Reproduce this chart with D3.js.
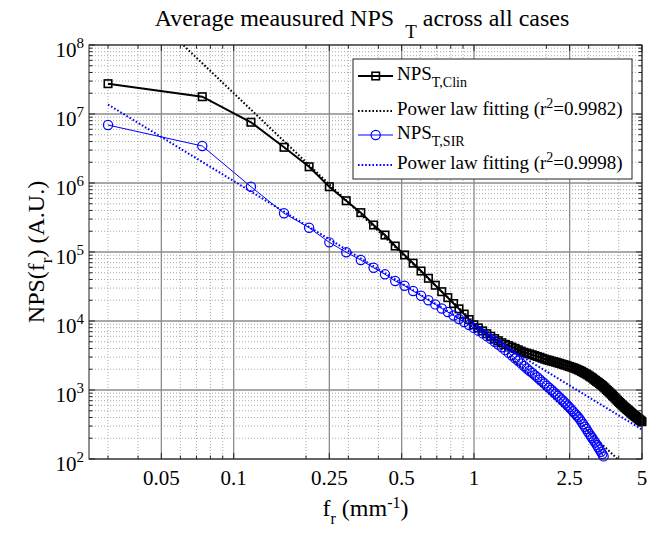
<!DOCTYPE html>
<html>
<head>
<meta charset="utf-8">
<script src="https://cdn.jsdelivr.net/npm/d3@7"></script>
<style>
  body { margin: 0; background: #fff; }
  svg text { font-family: "Liberation Serif", "Times New Roman", serif; fill: #000; }
</style>
</head>
<body>
<svg id="chart" width="647" height="538"></svg>
<script>
// spatial frequency (mm^-1) of each radial bin
const freq = [
  0.030, 0.074, 0.118, 0.162, 0.206, 0.250, 0.294, 0.338, 0.382, 0.426,
  0.470, 0.514, 0.558, 0.602, 0.646, 0.690, 0.734, 0.778, 0.822, 0.866,
  0.910, 0.954, 0.998, 1.042, 1.086, 1.130, 1.174, 1.218, 1.262, 1.306,
  1.350, 1.394, 1.438, 1.482, 1.526, 1.570, 1.614, 1.658, 1.702, 1.746,
  1.790, 1.834, 1.878, 1.922, 1.966, 2.010, 2.054, 2.098, 2.142, 2.186,
  2.230, 2.274, 2.318, 2.362, 2.406, 2.450, 2.494, 2.538, 2.582, 2.626,
  2.670, 2.714, 2.758, 2.802, 2.846, 2.890, 2.934, 2.978, 3.022, 3.066,
  3.110, 3.154, 3.198, 3.242, 3.286, 3.330, 3.374, 3.418, 3.462, 3.506,
  3.550, 3.594, 3.638, 3.682, 3.726, 3.770, 3.814, 3.858, 3.902, 3.946,
  3.990, 4.034, 4.078, 4.122, 4.166, 4.210, 4.254, 4.298, 4.342, 4.386,
  4.430, 4.474, 4.518, 4.562, 4.606, 4.650, 4.694, 4.738, 4.782, 4.826,
  4.870, 4.914, 4.958, 5.000
];

// NPS_T,Clin
const npsClin = [
  2.75e7, 1.78e7, 7.59e6, 3.29e6, 1.72e6, 8.83e5, 5.53e5, 3.72e5, 2.46e5, 1.76e5,
  1.22e5, 9.06e4, 6.89e4, 5.30e4, 4.16e4, 3.30e4, 2.66e4, 2.18e4, 1.79e4, 1.50e4,
  1.26e4, 1.05e4, 8.81e3, 7.94e3, 7.19e3, 6.55e3, 6.01e3, 5.56e3, 5.18e3, 4.85e3,
  4.58e3, 4.39e3, 4.19e3, 4.01e3, 3.83e3, 3.66e3, 3.52e3, 3.42e3, 3.33e3, 3.24e3,
  3.15e3, 3.06e3, 2.98e3, 2.89e3, 2.81e3, 2.74e3, 2.69e3, 2.63e3, 2.58e3, 2.53e3,
  2.48e3, 2.43e3, 2.38e3, 2.33e3, 2.29e3, 2.24e3, 2.19e3, 2.15e3, 2.11e3, 2.06e3,
  2.01e3, 1.96e3, 1.91e3, 1.86e3, 1.80e3, 1.75e3, 1.70e3, 1.65e3, 1.59e3, 1.54e3,
  1.49e3, 1.43e3, 1.38e3, 1.33e3, 1.29e3, 1.24e3, 1.20e3, 1.16e3, 1.11e3, 1.07e3,
  1.02e3, 982, 944, 906, 871, 836, 802, 771, 740, 711,
  682, 658, 635, 612, 592, 571, 555, 538, 521, 506,
  491, 476, 462, 448, 436, 425, 414, 404, 394, 383,
  374, 364, 356, 347
];

// NPS_T,SIR (stops at ~3.5 mm^-1)
const npsSir = [
  6.92e6, 3.44e6, 8.83e5, 3.64e5, 2.25e5, 1.38e5, 9.91e4, 7.66e4, 5.92e4, 4.75e4,
  3.80e4, 3.24e4, 2.72e4, 2.32e4, 2.00e4, 1.74e4, 1.52e4, 1.35e4, 1.20e4, 1.07e4,
  9.66e3, 8.73e3, 7.94e3, 7.24e3, 6.61e3, 6.03e3, 5.50e3, 5.00e3, 4.56e3, 4.15e3,
  3.78e3, 3.45e3, 3.16e3, 2.89e3, 2.65e3, 2.43e3, 2.23e3, 2.05e3, 1.90e3, 1.77e3,
  1.64e3, 1.53e3, 1.42e3, 1.32e3, 1.24e3, 1.15e3, 1.08e3, 1.01e3, 944, 883,
  828, 774, 726, 682, 640, 598, 561, 524, 491, 459,
  431, 404, 376, 346, 319, 294, 272, 249, 231, 214,
  200, 185, 173, 160, 148, 137, 127, 118, 109
];

// power law fits, end points (straight lines on log-log)
const fitClinF = [0.03, 5];
const fitClinNps = [1.09e9, 45.8];
const fitSirF = [0.03, 5];
const fitSirNps = [1.37e7, 267];

const xTickVals = [0.05, 0.1, 0.25, 0.5, 1, 2.5, 5];
const xTickLabels = ["0.05", "0.1", "0.25", "0.5", "1", "2.5", "5"];
const yTickExp = [2, 3, 4, 5, 6, 7, 8];

const legendLabels = [
  { main: "NPS", sub: "T,Clin" },
  { main: "Power law fitting (r", sup: "2", rest: "=0.9982)" },
  { main: "NPS", sub: "T,SIR" },
  { main: "Power law fitting (r", sup: "2", rest: "=0.9998)" }
];

const BLUE = "#0000ff";
const L = 89, R = 642, T = 45, B = 459;

const svg = d3.select("#chart");
const x = d3.scaleLog().domain([0.025, 5]).range([L, R]);
const y = d3.scaleLog().domain([1e2, 1e8]).range([B, T]);

// minor grid from the log scale's own ticks
const isMajorX = v => xTickVals.some(t => Math.abs(t - v) < 1e-9);
const xMinor = x.ticks().filter(v => !isMajorX(v) && v > 0.025 && v < 5);
const yMinor = y.ticks().filter(v => Math.abs(Math.log10(v) % 1) > 1e-6);
const yMajor = yTickExp.map(e => Math.pow(10, e));

const grid = svg.append("g");
grid.selectAll(".xm").data(xMinor).join("line")
  .attr("x1", d => x(d)).attr("x2", d => x(d)).attr("y1", T).attr("y2", B)
  .attr("stroke", "#a8a8a8").attr("stroke-width", 1).attr("stroke-dasharray", "1,2");
grid.selectAll(".ym").data(yMinor).join("line")
  .attr("y1", d => y(d)).attr("y2", d => y(d)).attr("x1", L).attr("x2", R)
  .attr("stroke", "#a8a8a8").attr("stroke-width", 1).attr("stroke-dasharray", "1,2");
grid.selectAll(".xM").data(xTickVals).join("line")
  .attr("x1", d => x(d)).attr("x2", d => x(d)).attr("y1", T).attr("y2", B)
  .attr("stroke", "#8c8c8c").attr("stroke-width", 1.3);
grid.selectAll(".yM").data(yMajor).join("line")
  .attr("y1", d => y(d)).attr("y2", d => y(d)).attr("x1", L).attr("x2", R)
  .attr("stroke", "#8c8c8c").attr("stroke-width", 1.3);

// inward ticks on all four sides
const ticks = svg.append("g").attr("stroke", "#222").attr("stroke-width", 1);
function vTicks(vals, len) {
  vals.forEach(v => {
    ticks.append("line").attr("x1", x(v)).attr("x2", x(v)).attr("y1", B).attr("y2", B - len);
    ticks.append("line").attr("x1", x(v)).attr("x2", x(v)).attr("y1", T).attr("y2", T + len);
  });
}
function hTicks(vals, len) {
  vals.forEach(v => {
    ticks.append("line").attr("y1", y(v)).attr("y2", y(v)).attr("x1", L).attr("x2", L + len);
    ticks.append("line").attr("y1", y(v)).attr("y2", y(v)).attr("x1", R).attr("x2", R - len);
  });
}
vTicks(xTickVals, 6); vTicks(xMinor, 3.5);
hTicks(yMajor, 6); hTicks(yMinor, 3.5);

svg.append("clipPath").attr("id", "plotclip")
  .append("rect").attr("x", L).attr("y", T).attr("width", R - L).attr("height", B - T);

const line = d3.line().x(d => x(d[0])).y(d => y(d[1]));
const clinPts = d3.zip(freq, npsClin);
const sirPts = d3.zip(freq.slice(0, npsSir.length), npsSir);

const plot = svg.append("g").attr("clip-path", "url(#plotclip)");
const marks = svg.append("g");

// Clin data
plot.append("path").datum(clinPts).attr("d", line)
  .attr("fill", "none").attr("stroke", "#000").attr("stroke-width", 2);
marks.selectAll(".sq").data(clinPts).join("rect")
  .attr("x", d => x(d[0]) - 3.75).attr("y", d => y(d[1]) - 3.75)
  .attr("width", 7.5).attr("height", 7.5)
  .attr("fill", "none").attr("stroke", "#000").attr("stroke-width", 1.6);
// Clin fit
plot.append("path").datum(d3.zip(fitClinF, fitClinNps)).attr("d", line)
  .attr("fill", "none").attr("stroke", "#000").attr("stroke-width", 2)
  .attr("stroke-dasharray", "1.6,2");
// SIR data
plot.append("path").datum(sirPts).attr("d", line)
  .attr("fill", "none").attr("stroke", BLUE).attr("stroke-width", 1);
marks.selectAll(".ci").data(sirPts).join("circle")
  .attr("cx", d => x(d[0])).attr("cy", d => y(d[1])).attr("r", 4.6)
  .attr("fill", "none").attr("stroke", BLUE).attr("stroke-width", 1.2);
// SIR fit
marks.append("path").datum(d3.zip(fitSirF, fitSirNps)).attr("d", line)
  .attr("fill", "none").attr("stroke", BLUE).attr("stroke-width", 2)
  .attr("stroke-dasharray", "1.6,2").attr("clip-path", "url(#plotclip)");

// frame
svg.append("rect").attr("x", L).attr("y", T).attr("width", R - L).attr("height", B - T)
  .attr("fill", "none").attr("stroke", "#222").attr("stroke-width", 1);

// x tick labels
svg.append("g").selectAll("text").data(xTickVals).join("text")
  .attr("x", d => x(d)).attr("y", B + 26).attr("text-anchor", "middle")
  .attr("font-size", 21).text((d, i) => xTickLabels[i]);

// y tick labels 10^n
const yl = svg.append("g").selectAll("text").data(yTickExp).join("text")
  .attr("x", L - 5).attr("y", d => y(Math.pow(10, d)) + 12)
  .attr("text-anchor", "end").attr("font-size", 21);
yl.append("tspan").text("10");
yl.append("tspan").attr("dy", -9).attr("font-size", 15).text(d => d);

// axis labels
const xl = svg.append("text").attr("x", (L + R) / 2).attr("y", 516)
  .attr("text-anchor", "middle").attr("font-size", 24);
xl.append("tspan").text("f");
xl.append("tspan").attr("dy", 8).attr("font-size", 16).text("r");
xl.append("tspan").attr("dy", -8).text(" (mm");
xl.append("tspan").attr("dy", -8).attr("font-size", 16).text("-1");
xl.append("tspan").attr("dy", 8).text(")");

const ylab = svg.append("text")
  .attr("transform", `translate(44,${(T + B) / 2}) rotate(-90)`)
  .attr("text-anchor", "middle").attr("font-size", 24);
ylab.append("tspan").text("NPS(f");
ylab.append("tspan").attr("dy", 8).attr("font-size", 17).text("r");
ylab.append("tspan").attr("dy", -8).text(") (A.U.)");

// title
const title = svg.append("text").attr("x", 362).attr("y", 26)
  .attr("text-anchor", "middle").attr("font-size", 24);
title.append("tspan").text("Average meausured NPS");
title.append("tspan").attr("dx", 11).attr("dy", 12).attr("font-size", 19).text("T");
title.append("tspan").attr("dy", -12).text(" across all cases");

// legend
const lg = svg.append("g");
lg.append("rect").attr("x", 353).attr("y", 59).attr("width", 279).attr("height", 120)
  .attr("fill", "#fff").attr("stroke", "#222").attr("stroke-width", 1);
const rowY = [76, 111, 135, 165];
const lx1 = 358, lx2 = 393, lmid = 375.7, tx = 397;
// row 1: Clin
lg.append("line").attr("x1", lx1).attr("x2", lx2).attr("y1", rowY[0]).attr("y2", rowY[0])
  .attr("stroke", "#000").attr("stroke-width", 2);
lg.append("rect").attr("x", lmid - 3.75).attr("y", rowY[0] - 3.75).attr("width", 7.5).attr("height", 7.5)
  .attr("fill", "none").attr("stroke", "#000").attr("stroke-width", 1.6);
// row 2: Clin fit
lg.append("line").attr("x1", lx1).attr("x2", lx2).attr("y1", rowY[1]).attr("y2", rowY[1])
  .attr("stroke", "#000").attr("stroke-width", 2).attr("stroke-dasharray", "1.6,2");
// row 3: SIR
lg.append("line").attr("x1", lx1).attr("x2", lx2).attr("y1", rowY[2]).attr("y2", rowY[2])
  .attr("stroke", BLUE).attr("stroke-width", 1);
lg.append("circle").attr("cx", lmid).attr("cy", rowY[2]).attr("r", 4.6)
  .attr("fill", "none").attr("stroke", BLUE).attr("stroke-width", 1.2);
// row 4: SIR fit
lg.append("line").attr("x1", lx1).attr("x2", lx2).attr("y1", rowY[3]).attr("y2", rowY[3])
  .attr("stroke", BLUE).attr("stroke-width", 2).attr("stroke-dasharray", "1.6,2");

legendLabels.forEach((d, i) => {
  const t = lg.append("text").attr("x", tx).attr("y", rowY[i] + 4).attr("font-size", 19);
  t.append("tspan").text(d.main);
  if (d.sub) t.append("tspan").attr("dy", 7).attr("font-size", 14).text(d.sub);
  if (d.sup) {
    t.append("tspan").attr("dy", -7).attr("font-size", 14).text(d.sup);
    t.append("tspan").attr("dy", 7).text(d.rest);
  }
});
</script>
</body>
</html>
